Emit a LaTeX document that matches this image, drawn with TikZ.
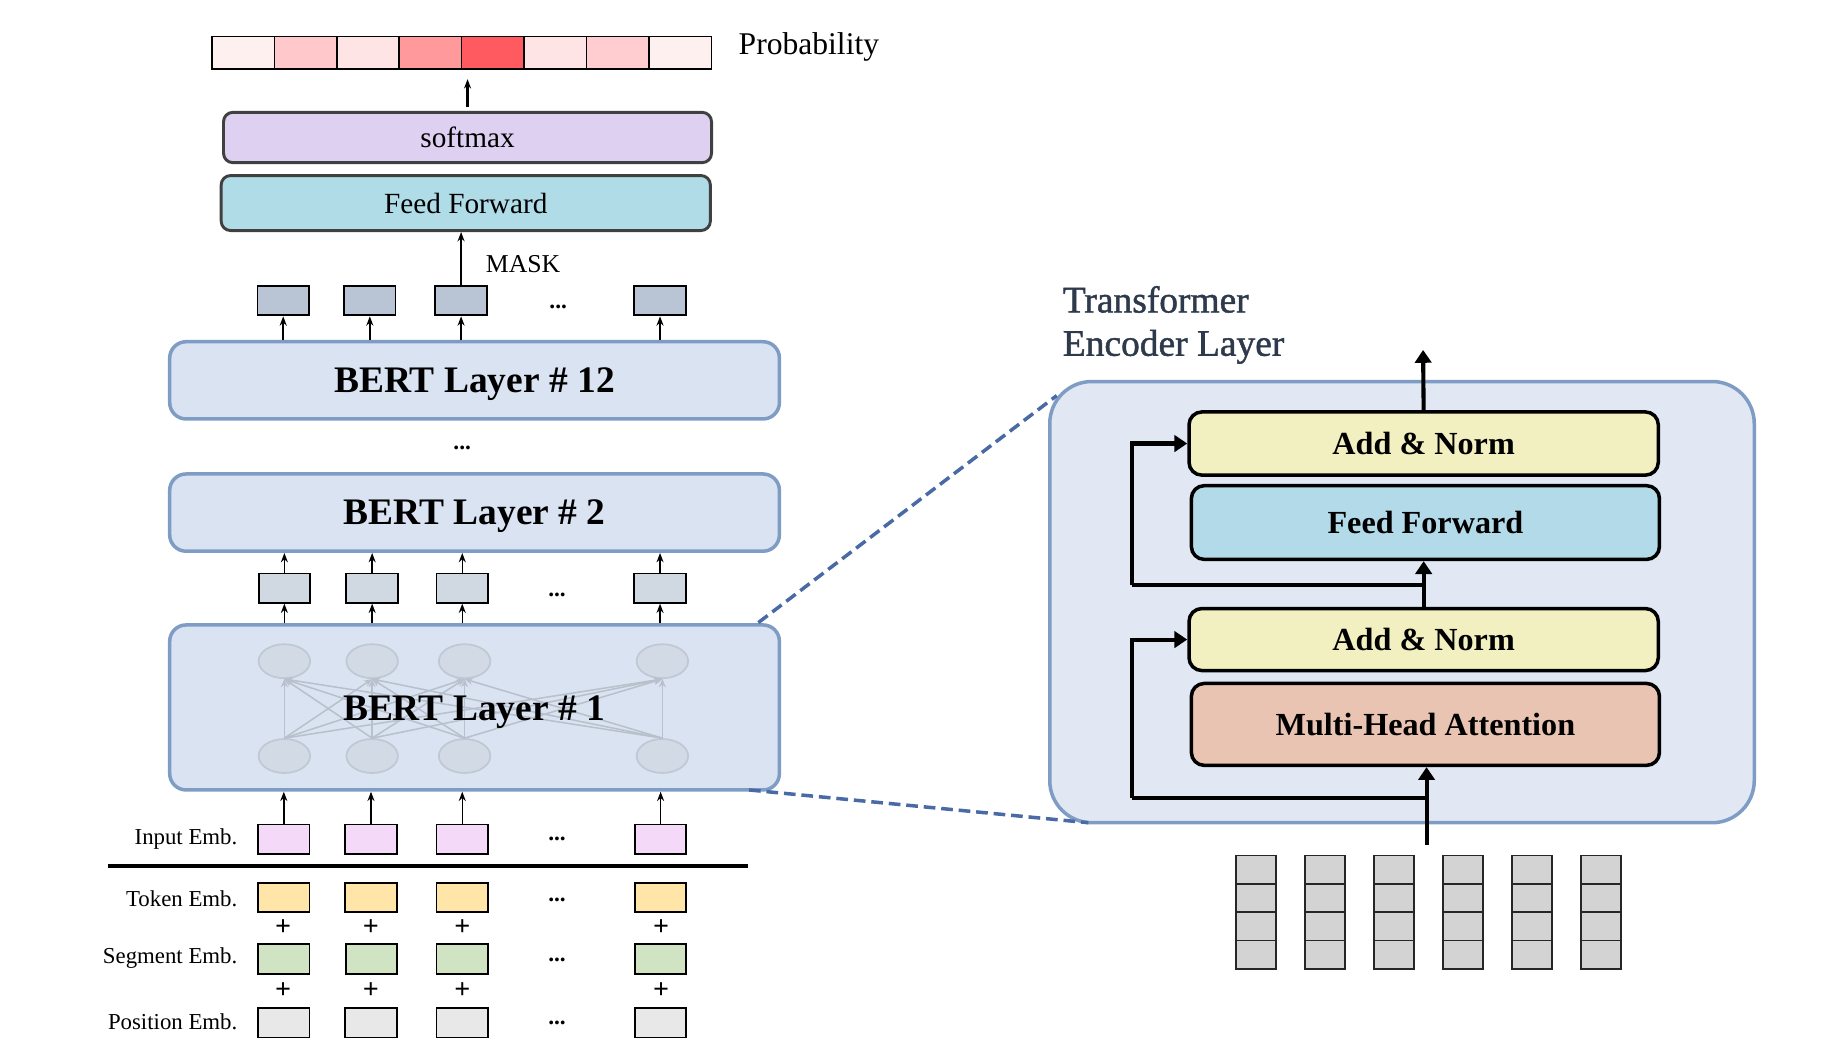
\documentclass[tikz,border=0pt]{standalone}
\usepackage{fontspec}
\setmainfont{Liberation Serif}
\newfontfamily\titlefont[FakeBold=1.2]{Liberation Serif}
\usetikzlibrary{shapes.geometric,arrows.meta,calc}
\definecolor{pcA}{HTML}{FFF0F0}
\definecolor{pcB}{HTML}{FFC9CB}
\definecolor{pcC}{HTML}{FFE4E5}
\definecolor{pcD}{HTML}{FF999C}
\definecolor{pcE}{HTML}{FF5A5F}
\definecolor{pcF}{HTML}{FFCDD0}
\definecolor{smfill}{HTML}{DDD0F0}
\definecolor{fffill}{HTML}{B0DCE8}
\definecolor{boxedge}{HTML}{404040}
\definecolor{tbfill}{HTML}{B9C4D4}
\definecolor{mbfill}{HTML}{D0D8E2}
\definecolor{bertfill}{HTML}{DAE3F2}
\definecolor{bertedge}{HTML}{7F9CC4}
\definecolor{ellfill}{HTML}{D2DBE5}
\definecolor{elledge}{HTML}{BFC8D4}
\definecolor{elllink}{HTML}{B8C0CC}
\definecolor{iefill}{HTML}{F5D9F8}
\definecolor{tkfill}{HTML}{FFE5A8}
\definecolor{sgfill}{HTML}{D0E4C4}
\definecolor{psfill}{HTML}{E8E8E8}
\definecolor{encfill}{HTML}{E1E8F4}
\definecolor{anfill}{HTML}{F2F0C0}
\definecolor{ff2fill}{HTML}{B2DAE8}
\definecolor{mhafill}{HTML}{EAC4B2}
\definecolor{vecfill}{HTML}{D3D3D3}
\definecolor{dashcol}{HTML}{4A6AA6}
\definecolor{titlecol}{HTML}{2E3A4B}
\tikzset{
  pcell/.style={draw=black, line width=1.3pt, minimum width=53.375pt, minimum height=28pt, inner sep=0pt},
  headbox/.style={draw=boxedge, line width=2.5pt, rounded corners=8pt, inner sep=0pt, font=\fontsize{25pt}{30pt}\selectfont},
  smallbox/.style={draw=black, line width=1.6pt, minimum width=44pt, minimum height=25pt, inner sep=0pt},
  bertbox/.style={draw=bertedge, fill=bertfill, line width=3pt, rounded corners=14pt, minimum width=521pt, inner sep=0pt, text depth=0pt, font=\bfseries\fontsize{32pt}{38pt}\selectfont},
  berttext/.style={font=\bfseries\fontsize{32pt}{38pt}\selectfont, inner sep=0pt, text depth=0pt},
  neuron/.style={ellipse, draw=elledge, fill=ellfill, line width=1.5pt, minimum width=44pt, minimum height=29pt, inner sep=0pt},
  nlink/.style={draw=elllink, line width=1.3pt, -{Stealth[length=7pt,width=6pt]}},
  thinarrow/.style={line width=1.3pt, -{Stealth[length=8pt,width=6pt]}},
  dotstext/.style={font=\bfseries\fontsize{20pt}{24pt}\selectfont, inner sep=0pt},
  plustext/.style={font=\bfseries\fontsize{24pt}{28pt}\selectfont, inner sep=0pt},
  embrow/.style={font=\fontsize{19.5pt}{23pt}\selectfont, anchor=east, inner sep=0pt},
  encbox/.style={draw=bertedge, fill=encfill, line width=3pt, rounded corners=36pt, minimum width=602pt, minimum height=377pt, inner sep=0pt},
  layerbox/.style={draw=black, line width=3pt, rounded corners=11pt, minimum width=400pt, inner sep=0pt, font=\bfseries\fontsize{27.5pt}{33pt}\selectfont},
  thick line/.style={line width=3.5pt},
  bigarrow/.style={line width=3.5pt, -{Triangle[length=11pt,width=14pt]}},
  vcell/.style={draw=black!85, fill=vecfill, line width=1.5pt, minimum width=34pt, minimum height=24.25pt, inner sep=0pt},
  zoomline/.style={draw=dashcol, line width=3pt, dash pattern=on 10pt off 5pt},
  titletext/.style={font=\titlefont\fontsize{32pt}{37pt}\selectfont, text=titlecol, anchor=base west, inner sep=0pt}
}
\begin{document}
\begin{tikzpicture}[x=1pt,y=-1pt]
\useasboundingbox (0,0) rectangle (1568,901);

% ---------- probability bar ----------
\node[pcell, fill=pcA] (p1) at (207.69,45) {};
\node[pcell, fill=pcB] (p2) at (261.06,45) {};
\node[pcell, fill=pcC] (p3) at (314.44,45) {};
\node[pcell, fill=pcD] (p4) at (367.81,45) {};
\node[pcell, fill=pcE] (p5) at (421.19,45) {};
\node[pcell, fill=pcC] (p6) at (474.56,45) {};
\node[pcell, fill=pcF] (p7) at (527.94,45) {};
\node[pcell, fill=pcA] (p8) at (581.31,45) {};
\node[anchor=west, inner sep=0pt, font=\fontsize{27pt}{32pt}\selectfont] (prob) at (631,40) {Probability};

% ---------- head ----------
\node[headbox, fill=smfill, minimum width=417pt, minimum height=43pt] (sm) at (399.5,117.5) {softmax};
\node[headbox, fill=fffill, minimum width=418pt, minimum height=47pt] (ff) at (398,173.5) {Feed Forward};
\draw[thinarrow, line width=1.8pt, shorten <=3pt, shorten >=8pt] (sm.north) -- (sm.north |- p1.south);

% ---------- top token boxes ----------
\node[smallbox, fill=tbfill] (tb1) at (242,257) {};
\node[smallbox, fill=tbfill] (tb2) at (316,257) {};
\node[smallbox, fill=tbfill] (tb3) at (394,257) {};
\node[smallbox, fill=tbfill] (tb4) at (564,257) {};
\node[dotstext] (tdots) at (477,262) {...};
\draw[thinarrow] (tb3.north) -- (tb3.north |- ff.south);
\node[anchor=west, inner sep=0pt, font=\fontsize{22pt}{26pt}\selectfont] (mask) at (415,226) {MASK};

% ---------- BERT layers ----------
\node[bertbox, minimum height=66pt] (b12) at (405.5,325) {BERT Layer \# 12};
\node[dotstext] (ldots) at (395,383) {...};
\node[bertbox, minimum height=66pt] (b2) at (405.5,438) {BERT Layer \# 2};
\foreach \i in {1,...,4} {\draw[thinarrow] (tb\i.south |- b12.north) -- (tb\i.south);}

\node[smallbox, fill=mbfill] (mb1) at (243,502.5) {};
\node[smallbox, fill=mbfill] (mb2) at (318,502.5) {};
\node[smallbox, fill=mbfill] (mb3) at (395,502.5) {};
\node[smallbox, fill=mbfill] (mb4) at (564,502.5) {};
\node[dotstext] (mdots) at (476,508) {...};
\foreach \i in {1,...,4} {\draw[thinarrow] (mb\i.north) -- (mb\i.north |- b2.south);}

\node[bertbox, minimum height=141pt] (b1) at (405.5,604.5) {};
\foreach \i in {1,...,4} {\draw[thinarrow] (mb\i.south |- b1.north) -- (mb\i.south);}
\node[neuron] (t1) at (243,565) {};
\node[neuron] (t2) at (318,565) {};
\node[neuron] (t3) at (397,565) {};
\node[neuron] (t4) at (566,565) {};
\node[neuron] (e1) at (243,646) {};
\node[neuron] (e2) at (318,646) {};
\node[neuron] (e3) at (397,646) {};
\node[neuron] (e4) at (566,646) {};
\foreach \i in {1,...,4} {\foreach \j in {1,...,4} {\draw[nlink] (e\i.north) -- (t\j.south);}}
\node[berttext] (b1txt) at (405,605) {BERT Layer \# 1};

% ---------- embeddings ----------
\node[smallbox, fill=iefill] (ie1) at (242.5,717) {};
\node[smallbox, fill=iefill] (ie2) at (317,717) {};
\node[smallbox, fill=iefill] (ie3) at (395,717) {};
\node[smallbox, fill=iefill] (ie4) at (564.5,717) {};
\foreach \i in {1,...,4} {\draw[thinarrow] (ie\i.north) -- (ie\i.north |- b1.south);}
\node[embrow] (lie) at (203,717) {Input Emb.};
\node[dotstext] (iedots) at (476,717) {...};

\coordinate (hl1) at (92,740);
\coordinate (hl2) at (639,740);
\draw[line width=3.5pt] (hl1) -- (hl2);

\node[smallbox, fill=tkfill] (tk1) at (242.5,767) {};
\node[smallbox, fill=tkfill] (tk2) at (317,767) {};
\node[smallbox, fill=tkfill] (tk3) at (395,767) {};
\node[smallbox, fill=tkfill] (tk4) at (564.5,767) {};
\node[embrow] (ltk) at (203,768) {Token Emb.};
\node[dotstext] (tkdots) at (476,769) {...};

\node[plustext] (pa1) at (242,792.5) {+};
\node[plustext] (pa2) at (317,792.5) {+};
\node[plustext] (pa3) at (395,792.5) {+};
\node[plustext] (pa4) at (565,792.5) {+};

\node[smallbox, fill=sgfill] (sg1) at (242.5,819.5) {};
\node[smallbox, fill=sgfill] (sg2) at (317.5,819.5) {};
\node[smallbox, fill=sgfill] (sg3) at (395,819.5) {};
\node[smallbox, fill=sgfill] (sg4) at (564.5,819.5) {};
\node[embrow] (lsg) at (203,819) {Segment Emb.};
\node[dotstext] (sgdots) at (476,820) {...};

\node[plustext] (pb1) at (242,846.5) {+};
\node[plustext] (pb2) at (317,846.5) {+};
\node[plustext] (pb3) at (395,846.5) {+};
\node[plustext] (pb4) at (565,846.5) {+};

\node[smallbox, fill=psfill] (ps1) at (242.5,874) {};
\node[smallbox, fill=psfill] (ps2) at (317,874) {};
\node[smallbox, fill=psfill] (ps3) at (395,874) {};
\node[smallbox, fill=psfill] (ps4) at (564.5,874) {};
\node[embrow] (lps) at (203,873) {Position Emb.};
\node[dotstext] (psdots) at (476,874) {...};

% ---------- encoder layer ----------
\node[titletext] (tt1) at (908,267) {Transformer};
\node[titletext] (tt2) at (908,304) {Encoder Layer};

\node[encbox] (enc) at (1198,514.5) {};
\node[layerbox, fill=anfill, minimum height=54pt, minimum width=401pt] (an2) at (1216.5,379) {Add \& Norm};
\node[layerbox, fill=ff2fill, minimum height=63pt] (ff2) at (1218,446.5) {Feed Forward};
\node[layerbox, fill=anfill, minimum height=53pt, minimum width=401pt] (an1) at (1216.5,546.5) {Add \& Norm};
\node[layerbox, fill=mhafill, minimum height=70pt] (mha) at (1218,619) {Multi-Head Attention};

\coordinate (in0) at (1219,722);
\coordinate (s1) at (1219,682);
\coordinate (r1) at (967,682);
\coordinate (s2) at (1216,500);
\coordinate (r2) at (967,500);
\coordinate (out) at (1216,299);
\draw[bigarrow] (in0) -- (in0 |- mha.south);
\draw[thick line] (s1) -- (r1);
\draw[bigarrow, rounded corners=0pt] (r1) |- (an1.west);
\draw[bigarrow] (an1.north) -- (an1.north |- ff2.south);
\draw[thick line] (s2) -- (r2);
\draw[bigarrow] (r2) |- (an2.west);
\draw[bigarrow] (an2.north) -- (out);

% ---------- zoom lines ----------
\coordinate (d1a) at (648,532);
\coordinate (d1b) at (903,338);
\coordinate (d2a) at (640,675);
\coordinate (d2b) at (930,703);
\draw[zoomline] (d1a) -- (d1b);
\draw[zoomline] (d2a) -- (d2b);

% ---------- input vectors ----------
\foreach \i in {1,...,6} {
  \foreach \j in {1,...,4} {
    \node[vcell] (v\i-\j) at ({1073+59*(\i-1)},{731+24.25*(\j-0.5)}) {};
  }
}
\end{tikzpicture}
\end{document}
